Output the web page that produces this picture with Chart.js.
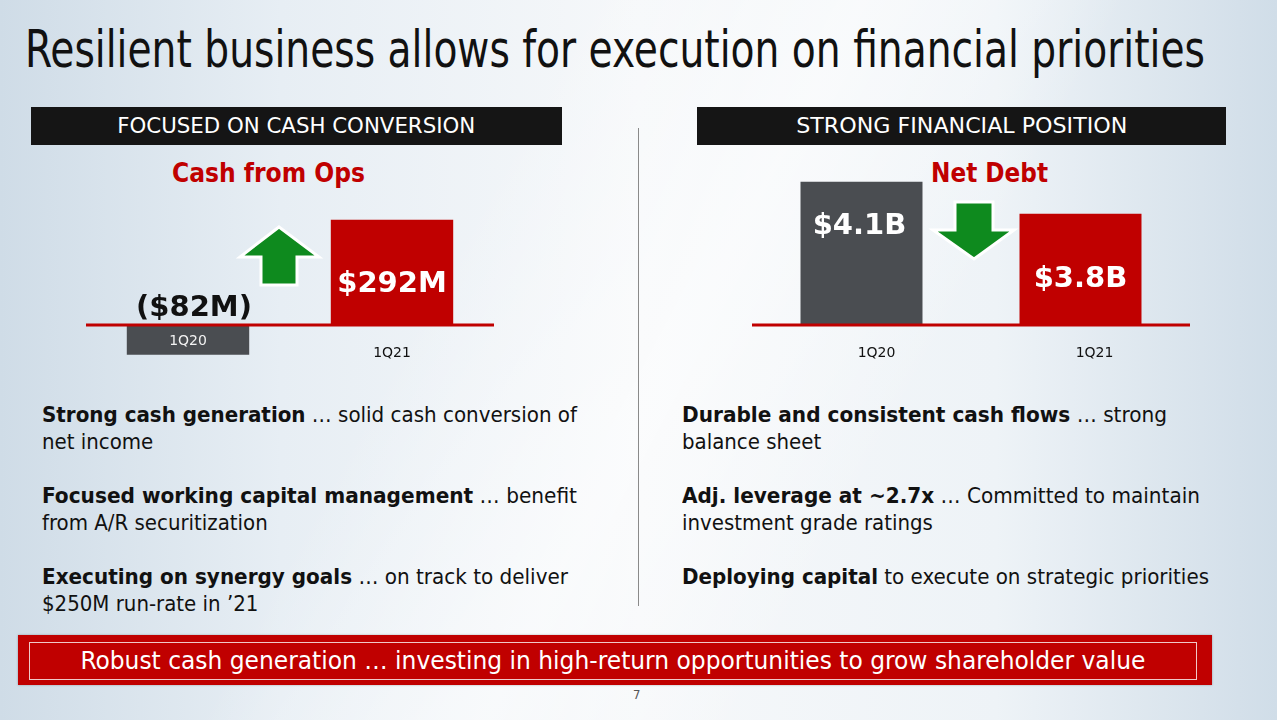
<!DOCTYPE html>
<html>
<head>
<meta charset="utf-8">
<script src="https://cdn.jsdelivr.net/npm/chart.js@4"></script>
<style>
  html, body { margin: 0; padding: 0; }
  body {
    width: 1277px; height: 720px; overflow: hidden; position: relative;
    font-family: "DejaVu Sans Condensed", "DejaVu Sans", sans-serif; color: #111;
    background:
      linear-gradient(118deg, rgba(255,255,255,0) 35%, rgba(255,255,255,0.55) 52%, rgba(255,255,255,0) 68%),
      linear-gradient(90deg, #cfdce7 0%, #e7eef4 22%, #f6f8fa 50%, #eef3f7 78%, #d0dde8 100%);
  }
  .abs { position: absolute; white-space: nowrap; }
  .fit { display: inline-block; transform-origin: left center; }
  .title { left: 25px; top: 20px; font-size: 51px; font-family: "DejaVu Sans Condensed", sans-serif; }
  .hdr { top: 107px; height: 38px; background: #151515; color: #fff; text-align: center; font-size: 22px; line-height: 38px; }
  .hdr .fit { transform-origin: center center; }
  .ctitle { top: 158px; font-size: 26px; font-weight: bold; color: #c00000; }
  .sep { left: 638px; top: 128px; width: 1px; height: 478px; background: #8a8a8a; }
  .bul { top: 401px; font-size: 22px; line-height: 27px; }
  .bul p { margin: 0 0 27px 0; }
  .band { left: 18px; top: 635px; width: 1194px; height: 50px; background: #c00000; box-shadow: 0 0 2px rgba(0,0,0,0.3); }
  .band .inner { position: absolute; left: 11px; top: 7px; width: 1166px; height: 36px; border: 1px solid #f0c8c8;
    color: #fff; font-size: 24px; line-height: 36px; text-align: center; }
  .band .fit { transform-origin: center center; }
  .pg { left: 633px; top: 687px; font-size: 13px; color: #555; }
  canvas { position: absolute; }
</style>
</head>
<body>
<div class="abs title"><span class="fit" data-w="1180">Resilient business allows for execution on financial priorities</span></div>

<div class="abs hdr" style="left:31px;width:531px;"><span class="fit" data-w="358">FOCUSED ON CASH CONVERSION</span></div>
<div class="abs hdr" style="left:697px;width:529px;"><span class="fit" data-w="331">STRONG FINANCIAL POSITION</span></div>

<div class="abs ctitle" style="left:172px;"><span class="fit" data-w="193">Cash from Ops</span></div>
<div class="abs ctitle" style="left:931px;"><span class="fit" data-w="117">Net Debt</span></div>

<div class="abs sep"></div>

<svg class="abs" style="left:236px;top:222px;" width="90" height="70">
  <polygon points="43,5 83,35 61,35 61,63 25,63 25,35 4,35" fill="#0e8a1e" stroke="#fff" stroke-width="3" stroke-linejoin="miter"/>
</svg>
<svg class="abs" style="left:928px;top:197px;" width="92" height="68">
  <polygon points="27,5 65,5 65,33 86,33 46,62 5,33 27,33" fill="#0e8a1e" stroke="#fff" stroke-width="3" stroke-linejoin="miter"/>
</svg>

<canvas id="cfo" width="408" height="190" style="left:86px;top:200px;"></canvas>
<canvas id="debt" width="438" height="205" style="left:752px;top:170px;"></canvas>

<div class="abs bul" style="left:42px;">
  <p><span class="fit" data-w="535"><b>Strong cash generation</b> … solid cash conversion of</span><br>net income</p>
  <p><span class="fit" data-w="535"><b>Focused working capital management</b> … benefit</span><br>from A/R securitization</p>
  <p><span class="fit" data-w="526"><b>Executing on synergy goals</b> … on track to deliver</span><br>$250M run-rate in ’21</p>
</div>
<div class="abs bul" style="left:682px;">
  <p><span class="fit" data-w="485"><b>Durable and consistent cash flows</b> … strong</span><br>balance sheet</p>
  <p><span class="fit" data-w="518"><b>Adj. leverage at ~2.7x</b> … Committed to maintain</span><br>investment grade ratings</p>
  <p><span class="fit" data-w="527"><b>Deploying capital</b> to execute on strategic priorities</span></p>
</div>

<div class="abs band"><div class="inner"><span class="fit" data-w="1065">Robust cash generation … investing in high-return opportunities to grow shareholder value</span></div></div>
<div class="abs pg">7</div>

<script>
// --- DATA ---
const cfoCategories = ['1Q20', '1Q21'];
const cfoValues = [-82, 292];          // $M
const cfoValueText = ['($82M)', '$292M'];

const debtCategories = ['1Q20', '1Q21'];
const debtValues = [4.1, 3.8];         // $B
const debtValueText = ['$4.1B', '$3.8B'];

const GRAY = '#4a4d51';
const RED = '#c00000';

// squeeze text boxes to the widths of the slide
document.querySelectorAll('.fit').forEach(el => {
  const w = parseFloat(el.dataset.w);
  el.style.transform = `scaleX(${w / el.getBoundingClientRect().width})`;
});

// --- PLUGINS ---
const baseLine = {
  id: 'baseLine',
  afterDatasetsDraw(chart, args, opts) {
    const { ctx, chartArea, scales: { y } } = chart;
    const yb = Math.round(y.getPixelForValue(Math.max(y.min, 0)));
    ctx.save();
    ctx.strokeStyle = opts.color;
    ctx.lineWidth = opts.width;
    ctx.beginPath();
    ctx.moveTo(chartArea.left, yb);
    ctx.lineTo(chartArea.right, yb);
    ctx.stroke();
    ctx.restore();
  }
};

const valueLabels = {
  id: 'valueLabels',
  afterDatasetsDraw(chart, args, opts) {
    const { ctx } = chart;
    ctx.save();
    ctx.font = opts.font;
    ctx.textAlign = 'center';
    ctx.textBaseline = 'middle';
    chart.getDatasetMeta(0).data.forEach((bar, i) => {
      const top = Math.min(bar.y, bar.base);
      ctx.fillStyle = opts.colors[i];
      ctx.fillText(opts.texts[i], bar.x + opts.dx[i], top + opts.dy[i]);
    });
    ctx.restore();
  }
};

// category names: inside a negative bar (centred in it), else under the base line
const catLabels = {
  id: 'catLabels',
  afterDatasetsDraw(chart, args, opts) {
    const { ctx, scales: { y } } = chart;
    const yb = y.getPixelForValue(Math.max(y.min, 0));
    ctx.save();
    ctx.font = opts.font;
    ctx.textAlign = 'center';
    ctx.textBaseline = 'middle';
    chart.getDatasetMeta(0).data.forEach((bar, i) => {
      const neg = bar.y > bar.base;
      ctx.fillStyle = opts.colors[i];
      const ty = neg ? (bar.y + bar.base) / 2 + 1 : yb + opts.dy;
      ctx.fillText(chart.data.labels[i], bar.x + opts.dx[i], ty);
    });
    ctx.restore();
  }
};

Chart.defaults.animation = false;
Chart.defaults.font.family = '"DejaVu Sans", sans-serif';

// --- CASH FROM OPS ---
new Chart(document.getElementById('cfo'), {
  type: 'bar',
  data: {
    labels: cfoCategories,
    datasets: [{
      data: cfoValues,
      backgroundColor: [GRAY, RED],
      borderWidth: 0,
      categoryPercentage: 1,
      barPercentage: 0.6
    }]
  },
  options: {
    responsive: false,
    layout: { padding: 0 },
    plugins: {
      legend: { display: false },
      tooltip: { enabled: false },
      baseLine: { color: RED, width: 3 },
      valueLabels: {
        texts: cfoValueText, colors: ['#111', '#fff'],
        font: 'bold 29px "DejaVu Sans"', dx: [6, 0], dy: [-17, 65]
      },
      catLabels: { colors: ['#f2f2f2', '#111'], font: '14px "DejaVu Sans"', dx: [0, 0], dy: 28 }
    },
    scales: {
      x: { display: false },
      y: { display: false, min: -180, max: 347 }
    }
  },
  plugins: [baseLine, valueLabels, catLabels]
});

// --- NET DEBT ---
new Chart(document.getElementById('debt'), {
  type: 'bar',
  data: {
    labels: debtCategories,
    datasets: [{
      data: debtValues,
      backgroundColor: [GRAY, RED],
      borderWidth: 0,
      categoryPercentage: 1,
      barPercentage: 0.557
    }]
  },
  options: {
    responsive: false,
    layout: { padding: { top: 0, bottom: 50, left: 0, right: 0 } },
    plugins: {
      legend: { display: false },
      tooltip: { enabled: false },
      baseLine: { color: RED, width: 3 },
      valueLabels: {
        texts: debtValueText, colors: ['#fff', '#fff'],
        font: 'bold 29px "DejaVu Sans"', dx: [-2, 0], dy: [45, 66]
      },
      catLabels: { colors: ['#111', '#111'], font: '14px "DejaVu Sans"', dx: [15, 14], dy: 28 }
    },
    scales: {
      x: { display: false },
      y: { display: false, min: 2.76, max: 4.21 }
    }
  },
  plugins: [baseLine, valueLabels, catLabels]
});
</script>
</body>
</html>
